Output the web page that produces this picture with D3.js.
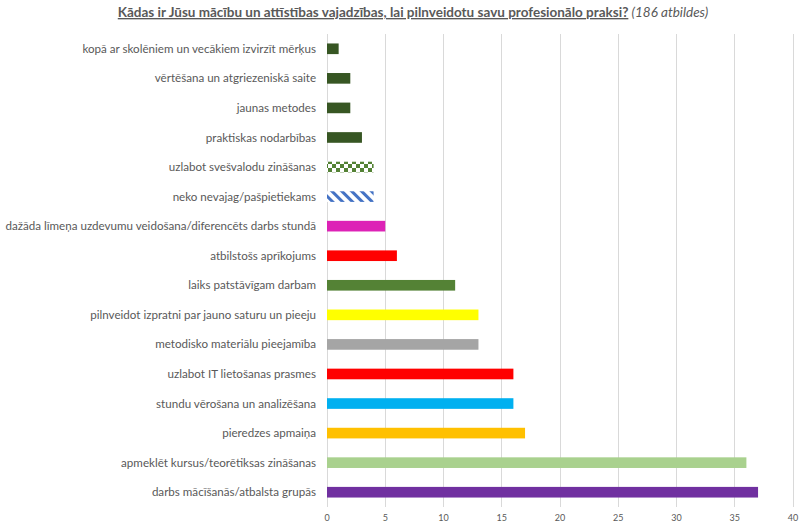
<!DOCTYPE html>
<html lang="lv">
<head>
  <meta charset="utf-8">
  <title>Mācību un attīstības vajadzības</title>
  <script src="https://d3js.org/d3.v7.min.js"></script>
  <style>
    body { margin: 0; background: #fff; font-family: Lato, "Open Sans", sans-serif; }
  </style>
</head>
<body>
  <svg id="chart"></svg>
  <script>
    // dati (no augšas uz leju)
    const categories = [
      "kopā ar skolēniem un vecākiem izvirzīt mērķus",
      "vērtēšana un atgriezeniskā saite",
      "jaunas metodes",
      "praktiskas nodarbības",
      "uzlabot svešvalodu zināšanas",
      "neko nevajag/pašpietiekams",
      "dažāda līmeņa uzdevumu veidošana/diferencēts darbs stundā",
      "atbilstošs aprīkojums",
      "laiks patstāvīgam darbam",
      "pilnveidot izpratni par jauno saturu un pieeju",
      "metodisko materiālu pieejamība",
      "uzlabot IT lietošanas prasmes",
      "stundu vērošana un analizēšana",
      "pieredzes apmaiņa",
      "apmeklēt kursus/teorētiksas zināšanas",
      "darbs mācīšanās/atbalsta grupās"
    ];
    const values = [1, 2, 2, 3, 4, 4, 5, 6, 11, 13, 13, 16, 16, 17, 36, 37];
    const fills = [
      "#375623", "#375623", "#375623", "#375623",
      "url(#checker)", "url(#hatch)",
      "#DD22B6", "#FF0000", "#548235", "#FFFF00", "#A5A5A5",
      "#FF0000", "#00B0F0", "#FFC000", "#A9D18E", "#7030A0"
    ];
    const xTicks = [0, 5, 10, 15, 20, 25, 30, 35, 40];

    const width = 800, height = 530;
    const margin = {top: 34, right: 7, bottom: 23, left: 327};

    const svg = d3.select("#chart")
        .attr("width", width)
        .attr("height", height);

    const defs = svg.append("defs");
    // rūtains raksts
    const checker = defs.append("pattern")
        .attr("id", "checker")
        .attr("patternUnits", "userSpaceOnUse")
        .attr("width", 8).attr("height", 8);
    checker.append("rect").attr("width", 8).attr("height", 8).attr("fill", "#fff");
    checker.append("rect").attr("width", 4).attr("height", 4).attr("fill", "#548235");
    checker.append("rect").attr("x", 4).attr("y", 4).attr("width", 4).attr("height", 4).attr("fill", "#548235");
    // svītrots raksts
    const hatch = defs.append("pattern")
        .attr("id", "hatch")
        .attr("patternUnits", "userSpaceOnUse")
        .attr("width", 7).attr("height", 7)
        .attr("patternTransform", "rotate(-45)");
    hatch.append("rect").attr("width", 7).attr("height", 7).attr("fill", "#fff");
    hatch.append("rect").attr("width", 3).attr("height", 7).attr("fill", "#4472C4");

    const x = d3.scaleLinear()
        .domain([0, 40])
        .range([margin.left, width - margin.right]);

    const y = d3.scaleBand()
        .domain(categories)
        .range([margin.top, height - margin.bottom])
        .paddingInner(0.64)
        .paddingOuter(0.32);

    // režģa līnijas
    svg.append("g")
      .selectAll("line")
      .data(xTicks)
      .join("line")
        .attr("x1", d => x(d)).attr("x2", d => x(d))
        .attr("y1", margin.top).attr("y2", height - margin.bottom)
        .attr("stroke", "#D9D9D9")
        .attr("stroke-width", 1)
        .attr("shape-rendering", "crispEdges");

    // stabiņi
    svg.append("g")
      .selectAll("rect")
      .data(values)
      .join("rect")
        .attr("x", x(0))
        .attr("y", (d, i) => y(categories[i]))
        .attr("width", d => x(d) - x(0))
        .attr("height", y.bandwidth())
        .attr("fill", (d, i) => fills[i]);

    // kategoriju nosaukumi
    svg.append("g")
        .attr("font-size", 11.6)
        .attr("fill", "#595959")
        .attr("text-anchor", "end")
      .selectAll("text")
      .data(categories)
      .join("text")
        .attr("x", margin.left - 11)
        .attr("y", d => y(d) + y.bandwidth() / 2)
        .attr("dy", "0.35em")
        .text(d => d);

    // ass vērtības
    svg.append("g")
        .attr("font-size", 9)
        .attr("fill", "#595959")
        .attr("text-anchor", "middle")
      .selectAll("text")
      .data(xTicks)
      .join("text")
        .attr("x", d => x(d))
        .attr("y", height - 9)
        .text(d => d);

    // virsraksts
    const title = svg.append("text")
        .attr("x", 413)
        .attr("y", 17)
        .attr("text-anchor", "middle")
        .attr("font-size", 13.5)
        .attr("fill", "#595959");
    title.append("tspan")
        .attr("font-weight", "bold")
        .attr("text-decoration", "underline")
        .text("Kādas ir Jūsu mācību un attīstības vajadzības, lai pilnveidotu savu profesionālo praksi?");
    title.append("tspan")
        .attr("font-style", "italic")
        .text(" (186 atbildes)");
  </script>
</body>
</html>
